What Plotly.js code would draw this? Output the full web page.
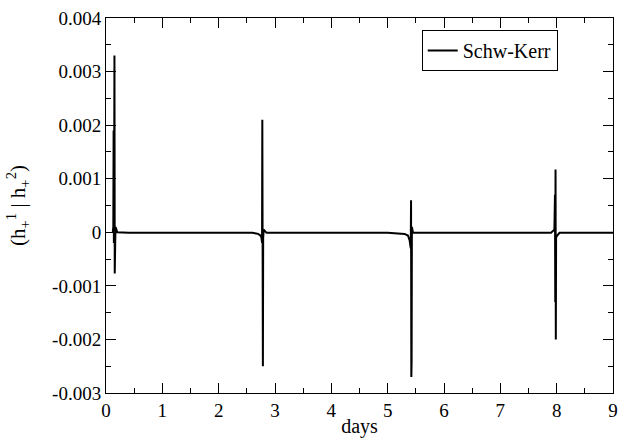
<!DOCTYPE html>
<html>
<head>
<meta charset="utf-8">
<script src="https://cdn.plot.ly/plotly-3.0.1.min.js"></script>
<style>html,body{margin:0;padding:0;background:#fff;}#chart{width:625px;height:438px;}</style>
</head>
<body>
<div id="chart"></div>
<script>
// time in days
const days = [
  0.12, 0.13, 0.135, 0.14, 0.145, 0.15, 0.155, 0.16, 0.165, 0.17, 0.20, 0.40, 1.00, 2.00, 2.60,
  2.70, 2.74, 2.76, 2.77, 2.775, 2.778, 2.782, 2.785, 2.79, 2.80, 2.85, 3.20, 4.00, 5.00,
  5.30, 5.36, 5.39, 5.41, 5.415, 5.418, 5.42, 5.422, 5.425, 5.43, 5.45, 6.00, 7.00,
  7.90, 7.96, 7.97, 7.975, 7.98, 7.985, 7.99, 8.01, 8.05, 8.50, 9.00
];
// overlap (h+^1 | h+^2)
const overlap = [
  0.0, 0.0001, 0.0019, -0.0002, 0.0012, 0.0033, -0.00077, 0.0002, -0.0001, 0.0001, 0.0, -0.00001, -0.00001, -0.00001, -0.00001,
  -0.00003, -0.00006, -0.0001, -0.0002, 0.0021, -0.00105, 0.0009, -0.0025, -0.0001, 0.00005, -0.00001, -0.00001, -0.00001, -0.00001,
  -0.00003, -0.00006, -0.00015, -0.0003, 0.0006, -0.0012, -0.0027, 0.0004, -0.0024, 0.0001, -0.00001, -0.00001, -0.00001,
  -0.00001, 0.00005, 0.0007, -0.0013, 0.00117, -0.002, -0.0001, -0.00006, -0.00001, -0.00001, -0.00001
];
const seriesName = 'Schw-Kerr';
const xTicks = [0,1,2,3,4,5,6,7,8,9];
const xTickText = ['0','1','2','3','4','5','6','7','8','9'];
const yTickVals = [-0.003,-0.002,-0.001,0,0.001,0.002,0.003,0.004];
const yTickText = ['-0.003','-0.002','-0.001','0','0.001','0.002','0.003','0.004'];

const font = 'Liberation Serif';
const trace = {
  x: days, y: overlap, type: 'scatter', mode: 'lines', name: seriesName,
  line: {color: '#000', width: 2}
};
const layout = {
  width: 625, height: 438,
  font: {family: font, size: 19, color: '#000'},
  margin: {l: 106, r: 12, t: 18, b: 45},
  paper_bgcolor: '#fff', plot_bgcolor: '#fff',
  showlegend: true,
  legend: {x: 0.891, y: 0.968, xanchor: 'right', yanchor: 'top',
    bordercolor: '#000', borderwidth: 1, bgcolor: '#fff',
    font: {family: font, size: 20, color: '#000'}},
  xaxis: {
    showline: true, linecolor: '#000', linewidth: 1, mirror: 'allticks',
    ticks: 'inside', ticklen: 10, tickwidth: 1, tickcolor: '#000',
    showgrid: false, zeroline: false,
    tickfont: {family: font, size: 19, color: '#000'},
    range: [0, 9], tickmode: 'array', tickvals: xTicks, ticktext: xTickText,
    minor: {ticks: 'inside', ticklen: 5, dtick: 0.5, tickcolor: '#000'},
    title: {text: 'days', font: {family: font, size: 20, color: '#000'}, standoff: 0}
  },
  yaxis: {
    showline: true, linecolor: '#000', linewidth: 1, mirror: 'allticks',
    ticks: 'inside', ticklen: 10, tickwidth: 1, tickcolor: '#000',
    showgrid: false, zeroline: false,
    tickfont: {family: font, size: 19, color: '#000'},
    range: [-0.003, 0.004], tickmode: 'array', tickvals: yTickVals, ticktext: yTickText,
    minor: {ticks: 'inside', ticklen: 5, dtick: 0.0005, tickcolor: '#000'},
    title: {text: '(h<sub>+</sub><sup>1</sup> | h<sub>+</sub><sup>2</sup>)', font: {family: font, size: 21, color: '#000'}, standoff: 20}
  }
};
Plotly.newPlot('chart', [trace], layout, {displayModeBar: false, staticPlot: true});
</script>
</body>
</html>
